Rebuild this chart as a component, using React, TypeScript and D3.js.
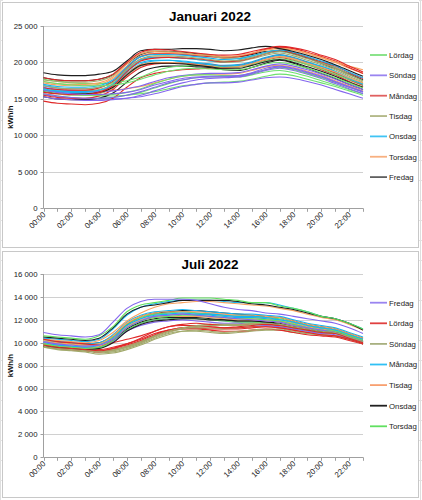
import React from "react";
import * as d3 from "d3";

const hours = ["00:00","01:00","02:00","03:00","04:00","05:00","06:00","07:00","08:00","09:00","10:00","11:00","12:00","13:00","14:00","15:00","16:00","17:00","18:00","19:00","20:00","21:00","22:00","23:00"];
const hourTickLabels = ["00:00","02:00","04:00","06:00","08:00","10:00","12:00","14:00","16:00","18:00","20:00","22:00"];

const janWeekdays = ["Lördag","Söndag","Måndag","Tisdag","Onsdag","Torsdag","Fredag"];
const janColors = ["#6ee06e","#8466ee","#e02828","#a2aa6c","#16b4f0","#f7a262","#1e1e1e"];
const janLegendColors = ["#7ee07e","#9a84f0","#e06060","#b0b684","#40c4f4","#f8b080","#606060"];
const janTicks = [0, 5000, 10000, 15000, 20000, 25000];

const julWeekdays = ["Fredag","Lördag","Söndag","Måndag","Tisdag","Onsdag","Torsdag"];
const julColors = ["#8466ee","#e02828","#a2aa6c","#16b4f0","#f7a262","#1e1e1e","#5ee05e"];
const julLegendColors = ["#9a84f0","#e04040","#a8b080","#30c0f4","#f8a070","#202020","#60e060"];
const julTicks = [0, 2000, 4000, 6000, 8000, 10000, 12000, 14000, 16000];

const janSeries: number[][] = [
  [16200,16000,15700,15500,15400,15400,15500,15700,16000,16400,16800,17000,17200,17300,17400,17700,18100,18400,18200,17700,17200,16700,16100,15500],
  [15600,15300,15100,15000,15000,15000,15100,15300,15700,16200,16700,17000,17200,17200,17300,17600,17900,18000,17800,17400,16900,16300,15700,15100],
  [14700,14400,14300,14200,14400,15100,16600,17900,18500,18800,19000,19100,19200,19200,19400,19800,20300,20700,20300,19700,19000,18300,17400,16600],
  [16000,15700,15500,15500,15700,16500,18200,19500,19900,20000,19900,19700,19500,19300,19400,19800,20400,20800,20400,19800,19200,18500,17600,16800],
  [16300,16000,15900,15900,16100,16800,18500,19800,20200,20300,20200,20000,19800,19600,19700,20100,20700,21100,20700,20100,19500,18800,17900,17100],
  [16800,16500,16200,16100,16100,16200,16400,16700,17200,17700,18100,18300,18400,18400,18500,18900,19400,19600,19300,18800,18200,17500,16800,16100],
  [15300,15000,14900,14900,15100,15800,17300,18700,19300,19500,19500,19400,19300,19000,18900,19300,19900,20300,19900,19200,18500,17800,17000,16300],
  [15700,15400,15200,15100,15100,15200,15500,15900,16500,17100,17600,17900,18000,18000,18000,18300,18700,18900,18600,18100,17500,16900,16300,15700],
  [15300,15000,14900,14800,14800,14900,15100,15500,16100,16700,17200,17600,17800,17900,18000,18400,18900,19200,18900,18400,17800,17100,16400,15700],
  [15500,15200,15100,15100,15400,16300,18000,19300,19800,19900,19900,19800,19700,19500,19600,20000,20600,21000,20600,20000,19300,18600,17700,16900],
  [16500,16200,16100,16100,16300,17100,18900,20300,20700,20700,20600,20400,20200,20000,20100,20500,21000,21300,20900,20300,19700,19000,18100,17300],
  [16800,16500,16400,16400,16600,17400,19100,20400,20700,20700,20600,20400,20200,20100,20300,20700,21200,21500,21200,20600,20000,19300,18400,17600],
  [17200,16900,16800,16800,17000,17800,19500,20900,21300,21300,21200,21000,20900,20700,20800,21200,21700,22000,21700,21200,20600,20000,19200,18500],
  [17900,17600,17500,17500,17700,18300,19800,21100,21500,21500,21400,21200,21000,20800,20800,21100,21500,21600,21200,20600,19900,19200,18400,17600],
  [17700,17400,17200,17100,17100,17200,17500,18000,18800,19300,19500,19600,19500,19400,19400,19700,20200,20500,20200,19700,19100,18400,17700,17000],
  [16600,16300,16100,16000,16000,16100,16400,16800,17400,17900,18200,18400,18500,18500,18600,19000,19500,19800,19500,19000,18400,17700,17000,16300],
  [16500,16300,16200,16200,16500,17400,19300,20800,21200,21200,21100,20900,20800,20600,20800,21200,21800,22100,21900,21400,20800,20200,19300,18500],
  [17600,17400,17300,17300,17500,18200,19900,21200,21600,21500,21300,21100,20900,20600,20600,20900,21400,21700,21300,20700,20000,19300,18400,17500],
  [16400,16100,16000,16000,16200,17000,18800,20000,20300,20300,20100,19900,19700,19500,19600,20000,20600,21000,20600,20000,19400,18700,17800,17000],
  [16000,15700,15600,15600,15800,16600,18400,19700,20000,20000,19900,19700,19500,19300,19400,19800,20400,20800,20500,19900,19300,18700,17900,17200],
  [16100,15800,15700,15700,15900,16600,18300,19600,19900,19900,19800,19600,19400,19200,19200,19600,20100,20400,20000,19400,18800,18100,17300,16600],
  [16100,15800,15600,15500,15500,15600,15900,16400,17100,17700,18100,18300,18300,18200,18200,18500,19000,19300,19000,18500,17900,17300,16600,16000],
  [15700,15400,15200,15100,15100,15200,15500,16000,16600,17200,17600,17900,18000,18000,18100,18500,19000,19400,19100,18600,18000,17300,16600,15900],
  [15900,15700,15600,15600,15900,16800,18700,20200,20600,20700,20600,20500,20300,20100,20200,20600,21200,21600,21300,20700,20100,19500,18600,17800],
  [16800,16500,16400,16400,16600,17300,19100,20500,20900,20900,20800,20600,20400,20200,20300,20700,21200,21500,21100,20500,19900,19200,18300,17500],
  [17000,16700,16600,16600,16800,17600,19400,20800,21100,21100,21000,20800,20600,20400,20500,20900,21400,21700,21400,20800,20200,19600,18700,17900],
  [17400,17100,17000,17000,17200,18000,19800,21200,21500,21400,21300,21100,21000,20800,20900,21300,21700,21900,21700,21300,20700,20100,19500,19000],
  [18600,18300,18200,18200,18400,18800,20200,21600,21800,21800,21900,21900,21800,21600,21700,22000,22200,21900,21500,21000,20400,19700,18900,18100],
  [17400,17100,16900,16800,16800,16900,17200,17700,18300,18800,19100,19200,19100,19000,19000,19300,19800,20000,19700,19200,18600,17900,17200,16500],
  [16200,15900,15700,15600,15600,15700,15900,16300,16900,17400,17800,18000,18100,18100,18200,18600,19200,19500,19200,18700,18100,17400,16700,16000],
  [17900,17600,17500,17500,17700,18400,20000,21400,21800,21700,21500,21300,21100,21000,21100,21500,21900,22200,22000,21600,21000,20400,19500,18700],
];

const julSeries: number[][] = [
  [10200,10000,9900,9800,9900,10500,11500,12100,12500,12600,12700,12600,12500,12400,12300,12200,12100,11900,11600,11400,11200,11000,10600,10200],
  [9900,9700,9600,9500,9400,9600,9900,10300,10800,11100,11300,11300,11200,11200,11200,11300,11400,11300,11100,10900,10700,10600,10300,9900],
  [9700,9500,9400,9300,9100,9200,9500,9900,10400,10800,11000,11000,10900,10800,10900,11000,11100,11100,10900,10800,10700,10600,10300,9900],
  [10000,9800,9700,9600,9700,10300,11300,11900,12300,12400,12500,12500,12400,12300,12200,12200,12100,12000,11700,11400,11200,11000,10600,10200],
  [10100,9900,9800,9700,9800,10400,11400,12000,12300,12400,12500,12400,12300,12200,12100,12100,12000,11900,11700,11400,11200,11000,10700,10300],
  [10300,10100,10000,9900,10000,10600,11600,12300,12600,12700,12800,12800,12700,12600,12500,12400,12300,12200,11900,11600,11400,11200,10800,10400],
  [10200,10000,9900,9800,9900,10500,11600,12200,12500,12600,12700,12600,12500,12400,12400,12300,12200,12100,11800,11500,11300,11100,10700,10300],
  [10000,9800,9700,9600,9700,10200,11100,11700,12000,12100,12200,12100,12000,11900,11800,11800,11700,11500,11300,11100,10900,10800,10400,10000],
  [9800,9600,9500,9400,9300,9500,9800,10200,10700,11100,11300,11400,11400,11300,11400,11500,11600,11500,11300,11100,10900,10800,10400,10000],
  [9600,9500,9400,9300,9200,9300,9600,10000,10600,11000,11200,11300,11300,11200,11300,11400,11500,11400,11200,11000,10900,10800,10400,10000],
  [10300,10100,10000,9900,10000,10700,11800,12400,12700,12800,12900,12800,12700,12600,12500,12500,12400,12300,12000,11700,11500,11300,10900,10500],
  [10200,10000,9900,9800,9900,10600,11700,12300,12600,12700,12700,12700,12600,12500,12400,12400,12300,12200,11900,11600,11400,11200,10800,10400],
  [9900,9700,9600,9500,9600,10200,11200,11800,12100,12200,12200,12200,12100,12000,11900,11900,11800,11700,11400,11200,11000,10900,10500,10100],
  [9800,9600,9500,9400,9500,10100,11100,11700,12000,12100,12100,12100,12000,11900,11800,11800,11700,11600,11300,11100,10900,10800,10400,10000],
  [9900,9700,9600,9500,9600,10100,11000,11500,11800,11900,12000,11900,11800,11700,11700,11600,11500,11400,11200,11000,10800,10700,10300,9900],
  [9700,9500,9400,9300,9200,9400,9700,10100,10600,11000,11200,11200,11100,11000,11000,11100,11200,11100,10900,10700,10600,10500,10200,9900],
  [9600,9400,9300,9200,9000,9100,9400,9800,10300,10700,11000,11100,11000,10900,11000,11100,11200,11200,11000,10800,10700,10600,10300,9900],
  [10400,10300,10200,10100,10300,11200,12400,13100,13400,13600,13700,13700,13700,13600,13500,13500,13500,13300,13000,12700,12300,12100,11700,11200],
  [10300,10200,10100,10000,10200,10900,11900,12600,13100,13400,13500,13600,13600,13500,13400,13300,13200,13000,12800,12500,12200,12000,11600,11100],
  [10500,10400,10300,10200,10400,11300,12500,13100,13300,13500,13700,13700,13700,13700,13600,13400,13300,13100,12900,12600,12300,12100,11700,11100],
  [10600,10500,10400,10300,10600,11400,12700,13300,13500,13700,13900,13900,13900,13800,13700,13500,13500,13200,13000,12700,12300,12100,11700,11200],
  [10900,10700,10600,10500,10700,11800,13000,13600,13800,13800,13800,13700,13400,13100,12900,12800,12600,12500,12300,12100,11900,11700,11300,10800],
  [10300,10100,10000,9900,9800,10000,10300,10600,11000,11400,11500,11500,11400,11300,11300,11400,11400,11300,11100,10900,10700,10600,10300,9900],
  [9800,9600,9500,9400,9300,9400,9700,10100,10600,11000,11300,11500,11600,11600,11600,11700,11700,11600,11400,11200,11000,10900,10500,10100],
  [10000,9800,9700,9600,9800,10400,11500,12100,12400,12500,12600,12500,12500,12400,12300,12300,12200,12000,11800,11500,11300,11100,10700,10300],
  [9900,9700,9600,9500,9700,10300,11300,11900,12200,12300,12300,12300,12200,12100,12000,12000,11900,11800,11500,11300,11100,10900,10500,10100],
  [9700,9600,9500,9400,9500,10000,11000,11600,11900,12000,12100,12100,12000,12000,11900,11900,11800,11600,11400,11200,11000,10900,10500,10100],
  [9900,9700,9600,9500,9600,10200,11300,11900,12200,12300,12400,12400,12300,12200,12100,12100,12000,11900,11600,11300,11100,11000,10600,10200],
  [10100,9900,9800,9700,9800,10300,11300,11900,12300,12400,12500,12400,12300,12200,12100,12000,11900,11800,11500,11300,11100,10900,10500,10100],
  [9800,9600,9500,9400,9300,9500,9900,10400,11000,11400,11600,11700,11600,11500,11500,11600,11600,11500,11300,11100,10900,10800,10400,10000],
  [9700,9500,9400,9300,9200,9300,9600,10000,10500,10900,11200,11400,11500,11500,11500,11600,11700,11600,11400,11200,11000,10900,10500,10100],
];

const fmt = d3.formatLocale({ decimal: ",", thousands: " ", grouping: [3], currency: ["", " kr"] }).format(",");
const FONT = "'Liberation Sans', Arial, sans-serif";

type PanelProps = {
  top: number; bottom: number; boxTop: number; boxBottom: number;
  title: string; titleY: number; max: number; ticks: number[];
  series: number[][]; colors: string[]; weekdays: string[]; legendColors: string[];
  legendY0: number; legendStep: number;
};

function Panel(p: PanelProps) {
  const x = d3.scalePoint<string>().domain(hours).range([43.5, 363]);
  const y = d3.scaleLinear().domain([0, p.max]).range([p.bottom, p.top]);
  const line = d3.line<number>().x((_, i) => x(hours[i]) as number).y((d) => y(d)).curve(d3.curveMonotoneX);
  return (
    <g>
      <rect x={2.5} y={p.boxTop + 0.5} width={416} height={p.boxBottom - p.boxTop} fill="#fff" stroke="#c8c8c8" />
      <text x={210} y={p.titleY} textAnchor="middle" fontFamily={FONT} fontWeight="bold" fontSize={13.5} fill="#000">{p.title}</text>
      {p.ticks.map((t) => (
        <g key={t}>
          {t > 0 && <line x1={43.5} x2={363} y1={Math.round(y(t)) + 0.5} y2={Math.round(y(t)) + 0.5} stroke="#d0d0d0" strokeWidth={1} />}
          <line x1={40.5} x2={43.5} y1={Math.round(y(t)) + 0.5} y2={Math.round(y(t)) + 0.5} stroke="#a0a0a0" />
          <text x={37.5} y={y(t) + 2.8} textAnchor="end" fontFamily={FONT} fontSize={7.8} fill="#222">{fmt(t)}</text>
        </g>
      ))}
      <line x1={43.5} x2={43.5} y1={p.top} y2={p.bottom} stroke="#a0a0a0" />
      <line x1={43.5} x2={363} y1={Math.round(p.bottom) + 0.5} y2={Math.round(p.bottom) + 0.5} stroke="#a0a0a0" />
      {hours.map((h) => (
        <line key={h} x1={Math.round(x(h) as number) + 0.5} x2={Math.round(x(h) as number) + 0.5} y1={p.bottom} y2={p.bottom + 3.5} stroke="#a0a0a0" />
      ))}
      {hourTickLabels.map((h) => (
        <text key={h} transform={`translate(${(x(h) as number) + 2.5},${p.bottom + 7}) rotate(-45)`} textAnchor="end" fontFamily={FONT} fontSize={7.8} fill="#222">{h}</text>
      ))}
      <text transform={`translate(12.5,${(p.top + p.bottom) / 2}) rotate(-90)`} textAnchor="middle" fontFamily={FONT} fontWeight="bold" fontSize={7.8} fill="#111">kWh/h</text>
      {p.series.map((s, i) => (
        <path key={i} d={line(s) as string} fill="none" stroke={p.colors[i % 7]} strokeWidth={1.1} />
      ))}
      {p.weekdays.map((w, i) => (
        <g key={w}>
          <line x1={370} x2={387} y1={p.legendY0 + i * p.legendStep} y2={p.legendY0 + i * p.legendStep} stroke={p.legendColors[i]} strokeWidth={1.8} />
          <text x={389} y={p.legendY0 + i * p.legendStep + 2.8} fontFamily={FONT} fontSize={7.8} fill="#222">{w}</text>
        </g>
      ))}
    </g>
  );
}

export default function App() {
  const rows = d3.range(0, 500, 20);
  return (
    <svg width={422} height={500} style={{ position: "absolute", left: 0, top: 0, background: "#fff" }}>
      <rect x={0} y={0} width={422} height={500} fill="#fff" />
      <line x1={0.5} x2={0.5} y1={0} y2={500} stroke="#dedede" />
      <line x1={420.5} x2={420.5} y1={0} y2={500} stroke="#dedede" />
      {rows.map((r) => (
        <g key={r}>
          <line x1={0} x2={3} y1={r + 0.5} y2={r + 0.5} stroke="#e2e2e2" />
          <line x1={419} x2={422} y1={r + 0.5} y2={r + 0.5} stroke="#e2e2e2" />
        </g>
      ))}
      <Panel top={26} bottom={208.3} boxTop={2} boxBottom={247} title="Januari 2022" titleY={21} max={25000} ticks={janTicks}
        series={janSeries} colors={janColors} weekdays={janWeekdays} legendColors={janLegendColors} legendY0={55} legendStep={20.35} />
      <Panel top={274} bottom={457.3} boxTop={251} boxBottom={497} title="Juli 2022" titleY={269} max={16000} ticks={julTicks}
        series={julSeries} colors={julColors} weekdays={julWeekdays} legendColors={julLegendColors} legendY0={302.7} legendStep={20.6} />
    </svg>
  );
}
